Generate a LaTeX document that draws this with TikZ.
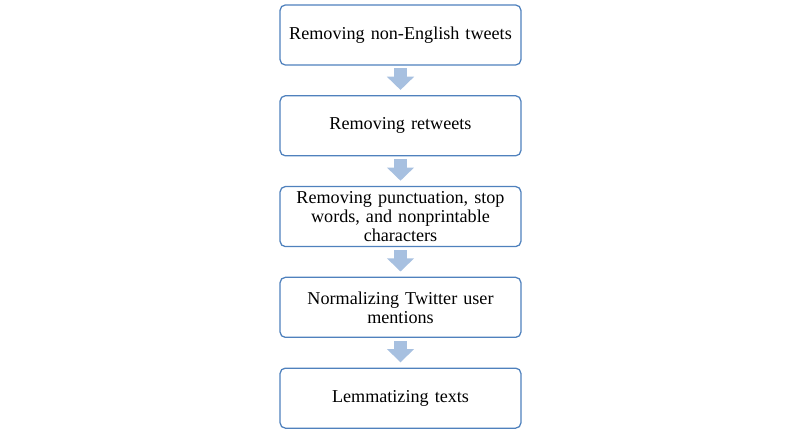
\documentclass[tikz,border=0pt]{standalone}
\usepackage{fontspec}
\setmainfont{Liberation Serif}
\usepackage{tikz}
\usetikzlibrary{positioning}
\usetikzlibrary{arrows.meta}
\definecolor{boxblue}{RGB}{79,129,189}
\definecolor{arrowblue}{RGB}{167,192,224}
\tikzstyle{process} = [rectangle, rounded corners=0.13cm, minimum width=6.02cm, minimum height=1.5cm, text width=5.78cm, align=center, draw=boxblue, line width=0.9pt, fill=white, font=\fontsize{12.9}{13.5}\selectfont]
\tikzstyle{flow} = [-{Triangle[width=0.66cm,length=0.33cm]}, line width=0.33cm, draw=arrowblue, shorten <=0.07cm, shorten >=0.13cm]

\begin{document}
\begin{tikzpicture}[node distance=0.738cm]

  \useasboundingbox (0,0) rectangle (20,-10.775);

  % steps
  \node[process] (nonenglish) at (10.0125,-0.875) {Removing non-English tweets};
  \node[process, below=of nonenglish] (retweets) {Removing retweets};
  \node[process, below=of retweets] (punct) {Removing punctuation, stop\\ words, and nonprintable\\ characters};
  \node[process, below=of punct] (mentions) {Normalizing Twitter user\\ mentions};
  \node[process, below=of mentions] (lemma) {Lemmatizing texts};

  % arrows
  \draw[flow] (nonenglish) -- (retweets);
  \draw[flow] (retweets) -- (punct);
  \draw[flow] (punct) -- (mentions);
  \draw[flow] (mentions) -- (lemma);

\end{tikzpicture}
\end{document}
